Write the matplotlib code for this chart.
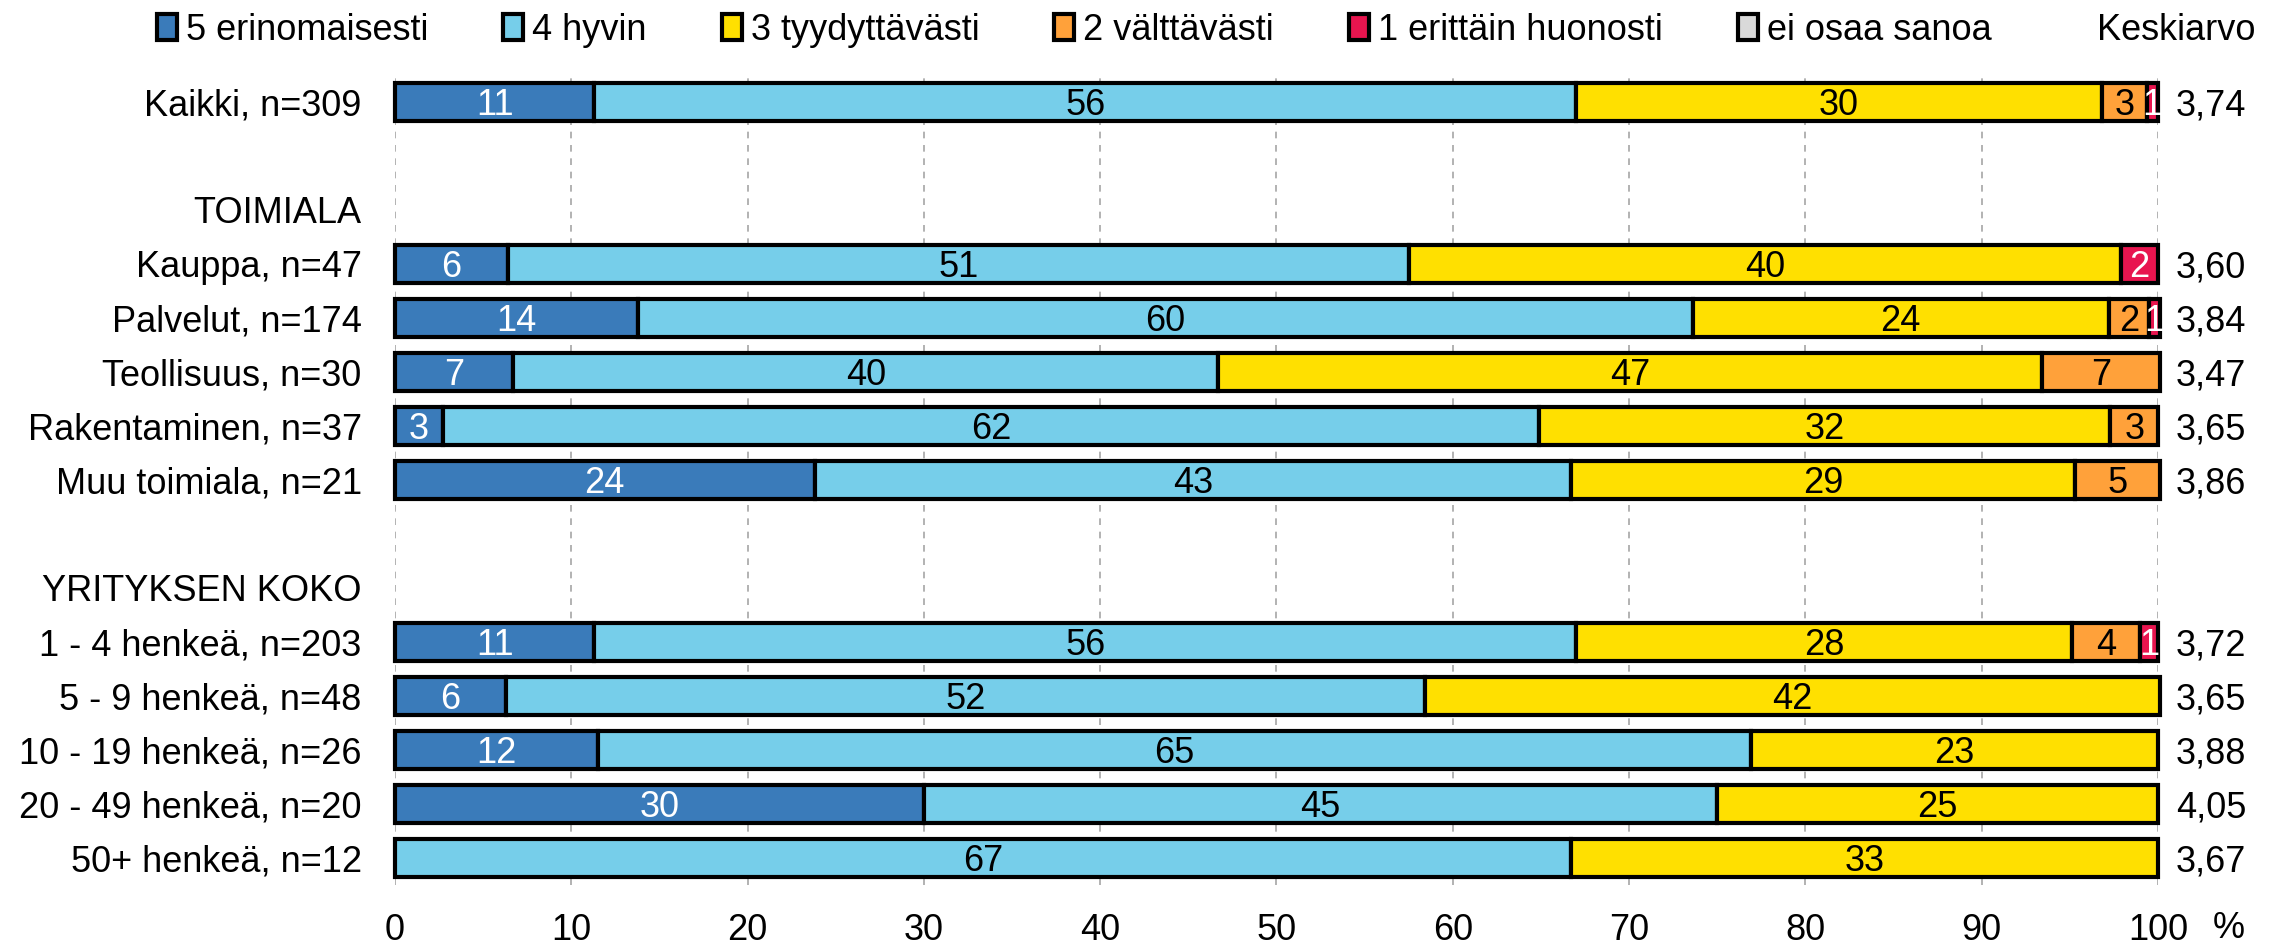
import numpy as np
import matplotlib
matplotlib.use("Agg")
import matplotlib.pyplot as plt
from matplotlib.patches import Patch

plt.rcParams['font.family'] = ['Liberation Sans', 'DejaVu Sans']

rows = ["Kaikki, n=309", "", "TOIMIALA", "Kauppa, n=47", "Palvelut, n=174",
        "Teollisuus, n=30", "Rakentaminen, n=37", "Muu toimiala, n=21", "",
        "YRITYKSEN KOKO", "1 - 4 henkeä, n=203", "5 - 9 henkeä, n=48",
        "10 - 19 henkeä, n=26", "20 - 49 henkeä, n=20", "50+ henkeä, n=12"]
nan = np.nan
v5 = [11.3, nan, nan, 6.4, 13.8, 6.7, 2.7, 23.8, nan, nan, 11.3, 6.3, 11.5, 30.0, 0.0]
v4 = [55.7, nan, nan, 51.1, 59.8, 40.0, 62.2, 42.9, nan, nan, 55.7, 52.1, 65.4, 45.0, 66.7]
v3 = [29.8, nan, nan, 40.4, 23.6, 46.7, 32.4, 28.6, nan, nan, 28.1, 41.7, 23.1, 25.0, 33.3]
v2 = [2.6, nan, nan, 0.0, 2.3, 6.7, 2.7, 4.8, nan, nan, 3.9, 0.0, 0.0, 0.0, 0.0]
v1 = [0.6, nan, nan, 2.1, 0.6, 0.0, 0.0, 0.0, nan, nan, 1.0, 0.0, 0.0, 0.0, 0.0]
veos = [0.0, nan, nan, 0.0, 0.0, 0.0, 0.0, 0.0, nan, nan, 0.0, 0.0, 0.0, 0.0, 0.0]
means = ["3,74", "", "", "3,60", "3,84", "3,47", "3,65", "3,86", "", "",
         "3,72", "3,65", "3,88", "4,05", "3,67"]
series_names = ["5 erinomaisesti", "4 hyvin", "3 tyydyttävästi", "2 välttävästi",
                "1 erittäin huonosti", "ei osaa sanoa"]
series = [v5, v4, v3, v2, v1, veos]
colors = ["#3A7BBA", "#76CEEA", "#FFE000", "#FFA13A", "#E8154F", "#D9D9D9"]
text_colors = ["white", "black", "black", "black", "white", "black"]
xticks = [0, 10, 20, 30, 40, 50, 60, 70, 80, 90, 100]

FS = 26
fig = plt.figure(figsize=(22.87, 9.46), dpi=100)
ax = fig.add_axes([0.1727, 0.0645, 0.9436 - 0.1727, 0.921 - 0.0645])

y = np.arange(len(rows))
left = np.zeros(len(rows))
for vals, col, tcol in zip(series, colors, text_colors):
    vals = np.array(vals, dtype=float)
    mask = ~np.isnan(vals) & (vals > 0)
    ax.barh(y[mask], vals[mask], left=left[mask], height=0.7, color=col,
            edgecolor="black", linewidth=3, clip_on=False, zorder=3)
    for yi, v, l in zip(y[mask], vals[mask], left[mask]):
        ax.text(l + v / 2, yi, f"{round(v):d}", ha="center", va="center_baseline",
                color=tcol, fontsize=FS, zorder=4)
    left = left + np.nan_to_num(vals)

for yi, m in zip(y, means):
    if m:
        ax.text(101.0, yi, m, ha="left", va="center_baseline", fontsize=FS,
                clip_on=False)

ax.set_xlim(0, 100)
ax.set_ylim(len(rows) - 0.5, -0.5)
ax.set_yticks(y)
ax.set_yticklabels(rows, fontsize=FS)
ax.set_xticks(xticks)
ax.set_xticklabels([str(t) for t in xticks], fontsize=FS)
ax.tick_params(axis="both", length=0)
ax.tick_params(axis="y", pad=24)
ax.tick_params(axis="x", pad=20)
for s in ax.spines.values():
    s.set_visible(False)
ax.xaxis.grid(True, linestyle=(0, (4, 4)), color="#A6A6A6", linewidth=1.2)
ax.set_axisbelow(True)

ax.text(103.1, -0.054, "%", transform=ax.get_xaxis_transform(), ha="left",
        va="center", fontsize=FS, clip_on=False)

handles = [Patch(facecolor=c, edgecolor="black", linewidth=3) for c in colors]
fig.legend(handles, series_names, loc="center left", bbox_to_anchor=(0.0686, 0.968),
           ncol=6, frameon=False, fontsize=FS, handlelength=0.55, handleheight=0.75,
           handletextpad=0.25, columnspacing=2.08, borderpad=0, borderaxespad=0)
fig.text(0.917, 0.968, "Keskiarvo", ha="left", va="center", fontsize=FS)

fig.savefig("out.png", dpi=100)
